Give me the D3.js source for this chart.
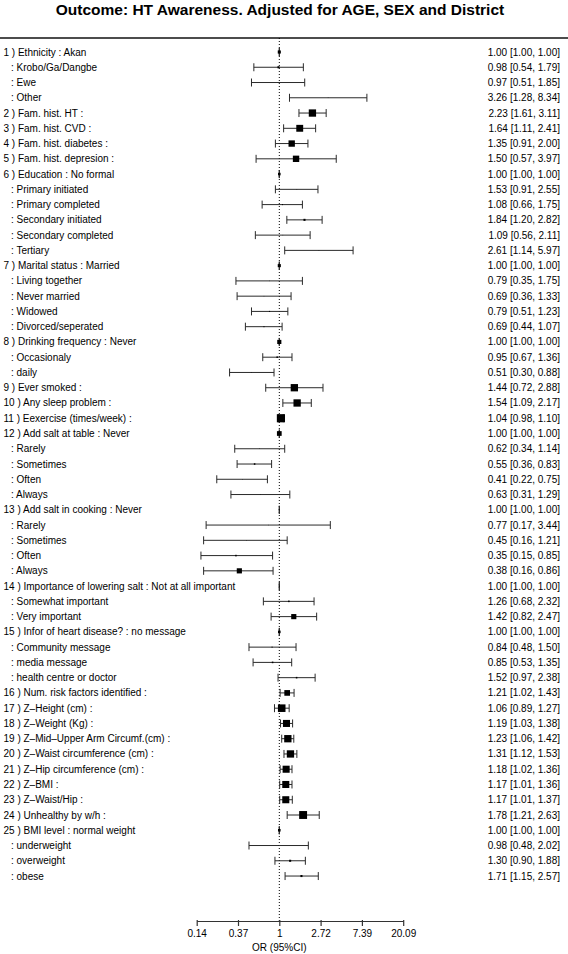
<!DOCTYPE html>
<html>
<head>
<meta charset="utf-8">
<script src="https://cdn.jsdelivr.net/npm/d3@7"></script>
<style>
  html, body { margin: 0; padding: 0; background: #fff; }
  svg { display: block; font-family: "Liberation Sans", Arial, Helvetica, sans-serif; }
</style>
</head>
<body>
<script>
// ---------------- DATA ----------------
const title = "Outcome: HT Awareness. Adjusted for AGE, SEX and District";
const axisTitle = "OR (95%CI)";

const labels = [
  "1 ) Ethnicity : Akan", ": Krobo/Ga/Dangbe", ": Ewe", ": Other",
  "2 ) Fam. hist. HT :", "3 ) Fam. hist. CVD :", "4 ) Fam. hist. diabetes :", "5 ) Fam. hist. depresion :",
  "6 ) Education : No formal", ": Primary initiated", ": Primary completed", ": Secondary initiated", ": Secondary completed", ": Tertiary",
  "7 ) Marital status : Married", ": Living together", ": Never married", ": Widowed", ": Divorced/seperated",
  "8 ) Drinking frequency : Never", ": Occasionaly", ": daily",
  "9 ) Ever smoked :", "10 ) Any sleep problem :", "11 ) Eexercise (times/week) :",
  "12 ) Add salt at table : Never", ": Rarely", ": Sometimes", ": Often", ": Always",
  "13 ) Add salt in cooking : Never", ": Rarely", ": Sometimes", ": Often", ": Always",
  "14 ) Importance of lowering salt : Not at all important", ": Somewhat important", ": Very important",
  "15 ) Infor of heart disease? : no message", ": Community message", ": media message", ": health centre or doctor",
  "16 ) Num. risk factors identified :", "17 ) Z\u2013Height (cm) :", "18 ) Z\u2013Weight (Kg) :",
  "19 ) Z\u2013Mid\u2013Upper Arm Circumf.(cm) :", "20 ) Z\u2013Waist circumference (cm) :", "21 ) Z\u2013Hip circumference (cm) :",
  "22 ) Z\u2013BMI :", "23 ) Z\u2013Waist/Hip :", "24 ) Unhealthy by w/h :",
  "25 ) BMI level : normal weight", ": underweight", ": overweight", ": obese"
];

const orValues = [
  1.00, 0.98, 0.97, 3.26,
  2.23, 1.64, 1.35, 1.50,
  1.00, 1.53, 1.08, 1.84, 1.09, 2.61,
  1.00, 0.79, 0.69, 0.79, 0.69,
  1.00, 0.95, 0.51,
  1.44, 1.54, 1.04,
  1.00, 0.62, 0.55, 0.41, 0.63,
  1.00, 0.77, 0.45, 0.35, 0.38,
  1.00, 1.26, 1.42,
  1.00, 0.84, 0.85, 1.52,
  1.21, 1.06, 1.19, 1.23, 1.31, 1.18, 1.17, 1.17, 1.78,
  1.00, 0.98, 1.30, 1.71
];
const lowerCI = [
  1.00, 0.54, 0.51, 1.28,
  1.61, 1.11, 0.91, 0.57,
  1.00, 0.91, 0.66, 1.20, 0.56, 1.14,
  1.00, 0.35, 0.36, 0.51, 0.44,
  1.00, 0.67, 0.30,
  0.72, 1.09, 0.98,
  1.00, 0.34, 0.36, 0.22, 0.31,
  1.00, 0.17, 0.16, 0.15, 0.16,
  1.00, 0.68, 0.82,
  1.00, 0.48, 0.53, 0.97,
  1.02, 0.89, 1.03, 1.06, 1.12, 1.02, 1.01, 1.01, 1.21,
  1.00, 0.48, 0.90, 1.15
];
const upperCI = [
  1.00, 1.79, 1.85, 8.34,
  3.11, 2.41, 2.00, 3.97,
  1.00, 2.55, 1.75, 2.82, 2.11, 5.97,
  1.00, 1.75, 1.33, 1.23, 1.07,
  1.00, 1.36, 0.88,
  2.88, 2.17, 1.10,
  1.00, 1.14, 0.83, 0.75, 1.29,
  1.00, 3.44, 1.21, 0.85, 0.86,
  1.00, 2.32, 2.47,
  1.00, 1.50, 1.35, 2.38,
  1.43, 1.27, 1.38, 1.42, 1.53, 1.36, 1.36, 1.37, 2.63,
  1.00, 2.02, 1.88, 2.57
];
// relative box weights (0..1)
const boxWeights = [
  0.36, 0.24, 0.06, 0.06,
  0.85, 0.8, 0.74, 0.74,
  0.3, 0.06, 0.12, 0.24, 0.06, 0.06,
  0.36, 0.06, 0.06, 0.12, 0.12,
  0.48, 0.18, 0.06,
  0.85, 0.85, 0.95,
  0.55, 0.06, 0.18, 0.06, 0.06,
  0.12, 0.06, 0.06, 0.18, 0.6,
  0.12, 0.18, 0.6,
  0.3, 0.12, 0.18, 0.18,
  0.66, 0.88, 0.82, 0.85, 0.85, 0.82, 0.82, 0.82, 0.92,
  0.3, 0.06, 0.24, 0.24
];
const tickValues = [Math.exp(-2), Math.exp(-1), 1, Math.exp(1), Math.exp(2), Math.exp(3)];
const tickLabels = ["0.14", "0.37", "1", "2.72", "7.39", "20.09"];

// ---------------- LAYOUT ----------------
const W = 568, H = 954;
const rowTop = 52, rowStep = 15.26;
const ruleY = 38;
const axisY = 921;

const svg = d3.select("body").append("svg").attr("width", W).attr("height", H);

const x = d3.scaleLog().domain([tickValues[0], tickValues[5]]).range([196.7, 403.2]);
const y = d3.scaleLinear().domain([0, labels.length - 1]).range([rowTop, rowTop + rowStep * (labels.length - 1)]);
const size = d3.scaleLinear().domain([0, 1]).range([0, 8.6]);

// title
svg.append("text").attr("x", W / 2 - 4).attr("y", 14.5).attr("text-anchor", "middle")
  .attr("font-size", 15.5).attr("font-weight", "bold").attr("fill", "#000").text(title);

// top rule
svg.append("line").attr("x1", 0).attr("x2", W).attr("y1", ruleY).attr("y2", ruleY)
  .attr("stroke", "#111").attr("stroke-width", 1.3);

// reference line at OR = 1
svg.append("line").attr("x1", x(1)).attr("x2", x(1)).attr("y1", ruleY).attr("y2", axisY)
  .attr("stroke", "#000").attr("stroke-width", 1).attr("stroke-dasharray", "1,2");

const rows = labels.map((l, i) => ({ label: l, or: orValues[i], lo: lowerCI[i], hi: upperCI[i], w: boxWeights[i], i }));

// labels
svg.append("g").selectAll("text").data(rows).join("text")
  .attr("x", d => d.label.startsWith(":") ? 11 : 3.5)
  .attr("y", d => y(d.i)).attr("dy", "0.35em")
  .attr("font-size", 10).attr("fill", "#000")
  .text(d => d.label);

// values
const f = d3.format(".2f");
svg.append("g").selectAll("text").data(rows).join("text")
  .attr("x", 560).attr("y", d => y(d.i)).attr("dy", "0.35em")
  .attr("text-anchor", "end").attr("font-size", 10).attr("fill", "#000")
  .text(d => `${f(d.or)} [${f(d.lo)}, ${f(d.hi)}]`);

// CI whiskers
const g = svg.append("g").attr("stroke", "#2a2a2a").attr("stroke-width", 1);
g.selectAll("line.ci").data(rows).join("line").attr("class", "ci")
  .attr("x1", d => x(d.lo)).attr("x2", d => x(d.hi))
  .attr("y1", d => y(d.i)).attr("y2", d => y(d.i));
g.selectAll("line.capl").data(rows).join("line").attr("class", "capl")
  .attr("x1", d => x(d.lo)).attr("x2", d => x(d.lo))
  .attr("y1", d => y(d.i) - 4).attr("y2", d => y(d.i) + 4);
g.selectAll("line.caph").data(rows).join("line").attr("class", "caph")
  .attr("x1", d => x(d.hi)).attr("x2", d => x(d.hi))
  .attr("y1", d => y(d.i) - 4).attr("y2", d => y(d.i) + 4);

// boxes
svg.append("g").selectAll("rect").data(rows).join("rect")
  .attr("x", d => x(d.or) - size(d.w) / 2).attr("y", d => y(d.i) - size(d.w) / 2)
  .attr("width", d => size(d.w)).attr("height", d => size(d.w))
  .attr("fill", "#000");

// x axis
const axis = d3.axisBottom(x).tickValues(tickValues)
  .tickFormat((d, i) => tickLabels[i]).tickSizeInner(5).tickSizeOuter(0).tickPadding(4);
const ax = svg.append("g").attr("transform", `translate(0,${axisY})`).call(axis);
ax.select(".domain").attr("stroke", "#333").attr("stroke-width", 1.2);
ax.selectAll(".tick line").attr("stroke", "#333").attr("stroke-width", 1.2).attr("y1", -1);
ax.selectAll(".tick text").attr("font-size", 10).attr("fill", "#000")
  .attr("font-family", "Liberation Sans, Arial, sans-serif");

svg.append("text").attr("x", x(1)).attr("y", 951).attr("text-anchor", "middle")
  .attr("font-size", 10).attr("fill", "#000").text(axisTitle);
</script>
</body>
</html>
